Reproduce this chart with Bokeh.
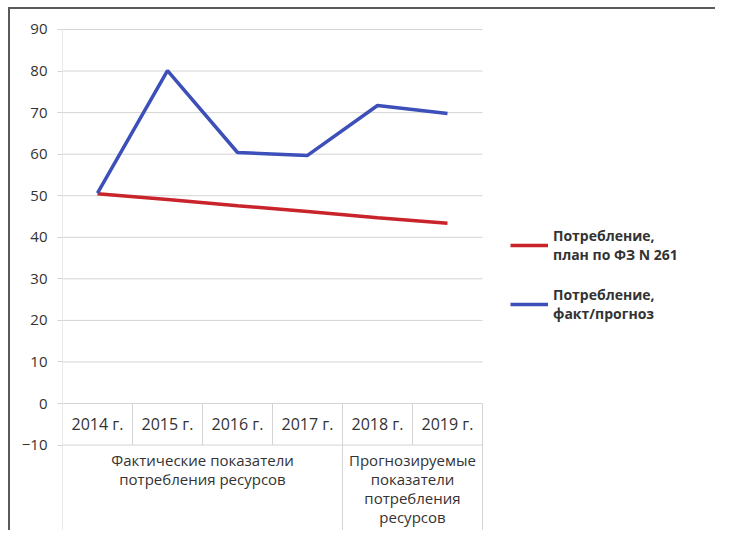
from bokeh.plotting import figure
from bokeh.models import Range1d, FixedTicker, Legend, LegendItem
from bokeh.core.properties import value
from bokeh.embed import file_html
from bokeh.resources import INLINE
import numpy as np

# ---- data ----
years = ["2014 г.", "2015 г.", "2016 г.", "2017 г.", "2018 г.", "2019 г."]
plan = [50.5, 49.1, 47.6, 46.2, 44.7, 43.4]
fact = [50.6, 80.1, 60.4, 59.7, 71.7, 69.8]
groups = ["Фактические показатели\nпотребления ресурсов",
          "Прогнозируемые\nпоказатели\nпотребления\nресурсов"]
group_sizes = [4, 2]
y_ticks = [-10, 0, 10, 20, 30, 40, 50, 60, 70, 80, 90]
legend_labels = ["Потребление,\nплан по ФЗ N 261", "Потребление,\nфакт/прогноз"]

FONT = "Open Sans"
GRID = "#d4d4d4"
TXT = "#333333"
RED = "#c9232b"
BLUE = "#3d4fb8"

n = len(years)
x = [i + 0.5 for i in range(n)]
y_lo, y_hi = -31.04, 94.81
W, H, LEFT = 707, 523, 52
x_hi = (W - LEFT) / 70.0   # plot area continues to the right for the legend

p = figure(width=W, height=H, output_backend="svg", toolbar_location=None,
           x_range=Range1d(0, x_hi), y_range=Range1d(y_lo, y_hi),
           x_axis_location=None, min_border_left=LEFT, min_border_right=0,
           min_border_top=0, min_border_bottom=0,
           styles={"margin-left": "8px", "margin-top": "7px",
                   "border-top": "2px solid #5a5a5a", "border-left": "2px solid #5a5a5a"})
p.outline_line_color = None
p.xgrid.visible = False
p.ygrid.visible = False

ax = p.yaxis[0]
ax.ticker = FixedTicker(ticks=y_ticks)
ax.axis_line_color = None
ax.major_tick_in = 0
ax.major_tick_out = 5
ax.major_tick_line_color = GRID
ax.minor_tick_line_color = None
ax.major_label_text_font = FONT
ax.major_label_text_font_size = "15px"
ax.major_label_text_color = TXT
ax.major_label_standoff = 10

# horizontal gridlines limited to the category span
p.segment(x0=[0] * len(y_ticks), y0=y_ticks, x1=[n] * len(y_ticks), y1=y_ticks,
          line_color=GRID, line_width=1)

# category table lines
bounds = np.cumsum([0] + group_sizes)
inner = [i for i in range(1, n) if i not in bounds]
p.segment(x0=[0], y0=[0], x1=[0], y1=[y_ticks[-1]], line_color=GRID, line_width=1)
p.segment(x0=list(bounds), y0=[0] * len(bounds), x1=list(bounds), y1=[y_lo] * len(bounds),
          line_color=GRID, line_width=1)
p.segment(x0=inner, y0=[0] * len(inner), x1=inner, y1=[y_ticks[0]] * len(inner),
          line_color=GRID, line_width=1)

# category labels
p.text(x=x, y=[-5] * n, text=years, text_align="center", text_baseline="middle",
       text_font=value(FONT), text_font_size="16px", text_color=TXT)
gx = [(bounds[i] + bounds[i + 1]) / 2 for i in range(len(groups))]
p.text(x=gx, y=[-11.1] * len(groups), text=groups, text_align="center", text_baseline="top",
       text_font=value(FONT), text_font_size="15px", text_color=TXT, text_line_height=0.95)

r1 = p.line(x, plan, line_color=RED, line_width=3.5)
r2 = p.line(x, fact, line_color=BLUE, line_width=3.5)

legend = Legend(items=[LegendItem(label=legend_labels[0], renderers=[r1]),
                       LegendItem(label=legend_labels[1], renderers=[r2])],
                location=(448, 209), margin=0, padding=0,
                glyph_width=38, label_standoff=5, spacing=21,
                label_text_font=FONT, label_text_font_size="14px",
                label_text_font_style="bold", label_text_color="#333333",
                border_line_color=None, background_fill_alpha=0)
p.add_layout(legend, "center")

open("out.html", "w").write(file_html(p, INLINE))
